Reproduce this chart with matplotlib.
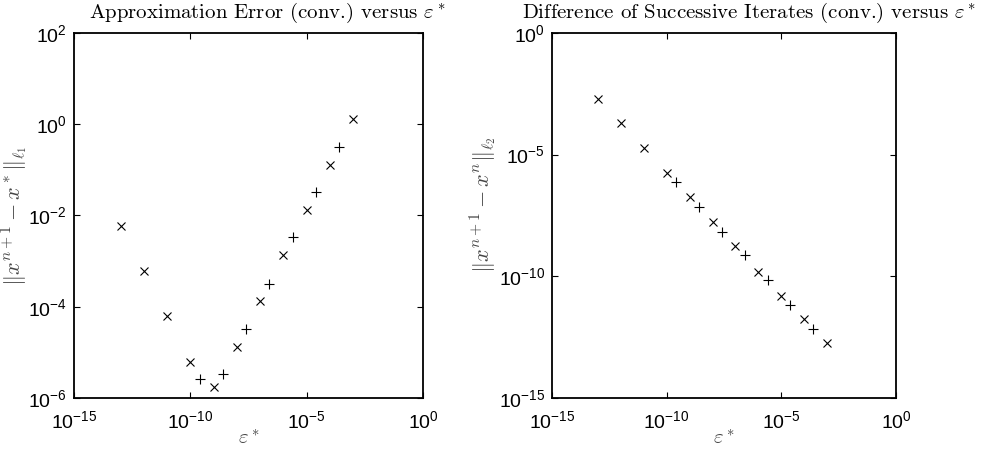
import matplotlib
matplotlib.use("Agg")
import matplotlib.pyplot as plt
import numpy as np

plt.rcParams['font.family'] = ['Liberation Sans', 'DejaVu Sans']
plt.rcParams['mathtext.fontset'] = 'cm'

# left panel: approximation error vs eps*
eps_x = [1e-13, 1e-12, 1e-11, 1e-10, 1e-9, 1e-8, 1e-7, 1e-6, 1e-5, 1e-4, 1e-3]
err_x = [5.9e-3, 6.2e-4, 6.4e-5, 6.2e-6, 1.7e-6, 1.33e-5, 1.35e-4, 1.35e-3, 1.3e-2, 0.13, 1.3]
eps_p = [2.5e-10, 2.5e-9, 2.5e-8, 2.5e-7, 2.5e-6, 2.5e-5, 2.5e-4]
err_p = [2.6e-6, 3.4e-6, 3.2e-5, 3.2e-4, 3.3e-3, 3.2e-2, 0.32]

# right panel: difference of successive iterates vs eps*
dif_x = [1.95e-3, 2e-4, 1.8e-5, 1.8e-6, 1.8e-7, 1.7e-8, 1.8e-9, 1.55e-10, 1.6e-11, 1.8e-12, 1.9e-13]
eps_p2 = [2.5e-10, 2.5e-9, 2.5e-8, 2.5e-7, 2.5e-6, 2.5e-5, 2.5e-4]
dif_p = [7.6e-7, 7.1e-8, 6.9e-9, 7.2e-10, 6.9e-11, 6.9e-12, 7.1e-13]

fig = plt.figure(figsize=(10.07, 4.5), dpi=100)
ax = []
ax.append(fig.add_axes([0.0735, 0.1156, 0.3466, 0.8111]))
ax.append(fig.add_axes([0.5482, 0.1156, 0.3416, 0.8111]))

ax[0].plot(eps_x, err_x, 'kx', ms=6, mew=0.8)
ax[0].plot(eps_p, err_p, 'k+', ms=7, mew=0.8)
ax[1].plot(eps_x, dif_x, 'kx', ms=6, mew=0.8)
ax[1].plot(eps_p2, dif_p, 'k+', ms=7, mew=0.8)

for a in ax:
    a.set_xscale('log')
    a.set_yscale('log')
    a.set_xlim(1e-15, 1e0)
    a.set_xticks([1e-15, 1e-10, 1e-5, 1e0])
    a.minorticks_off()
    a.tick_params(direction='in', top=True, right=True, length=4, width=0.8,
                  labelsize=14, pad=5)
    a.tick_params(axis='x', pad=9)
    for s in a.spines.values():
        s.set_linewidth(1.3)
    a.set_xlabel(r'$\varepsilon^*$', fontsize=15, color='#444444')
    a.xaxis.set_label_coords(0.5, -0.085)

ax[0].set_ylim(1e-6, 1e2)
ax[0].set_yticks([1e-6, 1e-4, 1e-2, 1e0, 1e2])
ax[1].set_ylim(1e-15, 1e0)
ax[1].set_yticks([1e-15, 1e-10, 1e-5, 1e0])
ax[0].minorticks_off()
ax[1].minorticks_off()

ax[0].set_ylabel(r'$\Vert x^{n+1} - x^*\Vert_{\ell_1}$', fontsize=16, color='#444444')
ax[0].yaxis.set_label_coords(-0.126, 0.5)
ax[1].set_ylabel(r'$\Vert x^{n+1} - x^n\Vert_{\ell_2}$', fontsize=16, color='#444444')
ax[1].yaxis.set_label_coords(-0.155, 0.53)

ax[0].set_title(r'Approximation Error (conv.) versus $\varepsilon^*$',
                family='cmr10', fontsize=15, x=0.554, pad=11)
ax[1].set_title(r'Difference of Successive Iterates (conv.) versus $\varepsilon^*$',
                family='cmr10', fontsize=15, x=0.574, pad=11)

plt.savefig("out.png", dpi=100)
